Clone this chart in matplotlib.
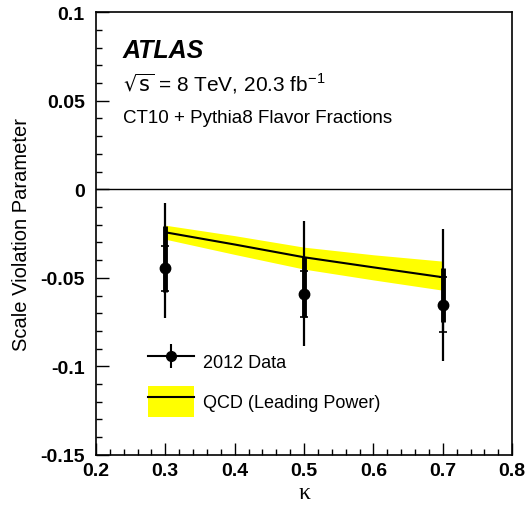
import matplotlib
matplotlib.use('Agg')
import matplotlib.pyplot as plt
from matplotlib.patches import Patch
from matplotlib.lines import Line2D
from matplotlib.ticker import MultipleLocator, FormatStrFormatter

plt.rcParams['font.family'] = ['Liberation Sans', 'DejaVu Sans']

# 2012 data
kappa = [0.3, 0.5, 0.7]
data = [-0.0446, -0.0593, -0.0653]
tot_up = [0.0367, 0.0413, 0.0427]
tot_dn = [0.0282, 0.0293, 0.0317]
sys_up = [0.0239, 0.0209, 0.0207]
sys_dn = [0.0135, 0.0129, 0.0097]
stat_err = [0.0127, 0.0130, 0.0155]

# QCD (leading power) prediction
qcd_k = [0.3, 0.4, 0.5, 0.6, 0.7]
qcd = [-0.0243, -0.0312, -0.0384, -0.0441, -0.0497]
qcd_lo = [-0.0282, -0.0368, -0.0451, -0.0512, -0.0570]
qcd_hi = [-0.0203, -0.0262, -0.0327, -0.0370, -0.0406]

fig = plt.figure(figsize=(5.27, 5.06), dpi=100)
ax = fig.add_axes([0.182, 0.099, 0.790, 0.875])

ax.axhline(0, color='black', lw=1.0)
ax.fill_between(qcd_k, qcd_lo, qcd_hi, color='#ffff00', lw=0)
ax.plot(qcd_k, qcd, color='black', lw=1.5)

ax.errorbar(kappa, data, yerr=[tot_dn, tot_up], fmt='none', ecolor='black', elinewidth=1.6)
ax.errorbar(kappa, data, yerr=[sys_dn, sys_up], fmt='none', ecolor='black', elinewidth=3.5)
ax.errorbar(kappa, data, yerr=stat_err, fmt='none', ecolor='black', elinewidth=1.6,
            capsize=3, capthick=1.2)
ax.plot(kappa, data, 'o', color='black', ms=7.5)

ax.set_xlim(0.2, 0.8)
ax.set_ylim(-0.15, 0.1)
ax.xaxis.set_major_locator(MultipleLocator(0.1))
ax.xaxis.set_minor_locator(MultipleLocator(0.02))
ax.yaxis.set_major_locator(MultipleLocator(0.05))
ax.yaxis.set_minor_locator(MultipleLocator(0.01))
ax.xaxis.set_major_formatter(FormatStrFormatter('%g'))
ax.yaxis.set_major_formatter(FormatStrFormatter('%g'))
ax.tick_params(which='both', direction='in', top=False, right=False, width=1)
ax.tick_params(which='major', length=9, labelsize=14)
ax.tick_params(axis='x', which='major', pad=5)
ax.tick_params(axis='y', which='major', pad=8)
ax.tick_params(which='minor', length=4.5)
for lab in ax.get_xticklabels() + ax.get_yticklabels():
    lab.set_fontweight('bold')
for s in ax.spines.values():
    s.set_linewidth(1.2)

ax.set_xlabel('κ', fontsize=17, family=['Liberation Serif', 'DejaVu Serif'], labelpad=2)
ax.set_ylabel('Scale Violation Parameter', fontsize=14.5, labelpad=7)

ax.text(0.065, 0.915, 'ATLAS', transform=ax.transAxes, fontsize=18,
        fontweight='bold', style='italic', va='center')
ax.text(0.065, 0.84, r'$\sqrt{\mathrm{s}}$ = 8 TeV, 20.3 fb$^{\mathregular{-1}}$',
        transform=ax.transAxes, fontsize=15, va='center')
ax.text(0.065, 0.763, 'CT10 + Pythia8 Flavor Fractions', transform=ax.transAxes,
        fontsize=13.5, va='center')

h_data = (Line2D([], [], color='black', lw=1.5, marker='o', ms=7),
          Line2D([], [], color='black', ls='none', marker='|', ms=17, mew=1.5))
h_qcd = (Patch(facecolor='#ffff00', edgecolor='none'), Line2D([], [], color='black', lw=1.5))
leg = ax.legend([h_data, h_qcd], ['2012 Data', 'QCD (Leading Power)'],
                loc='lower left', bbox_to_anchor=(0.085, 0.05), frameon=False,
                fontsize=13, handlelength=2.6, handleheight=2.2, labelspacing=0.55,
                handletextpad=0.45)

fig.savefig('out.png', dpi=100)
